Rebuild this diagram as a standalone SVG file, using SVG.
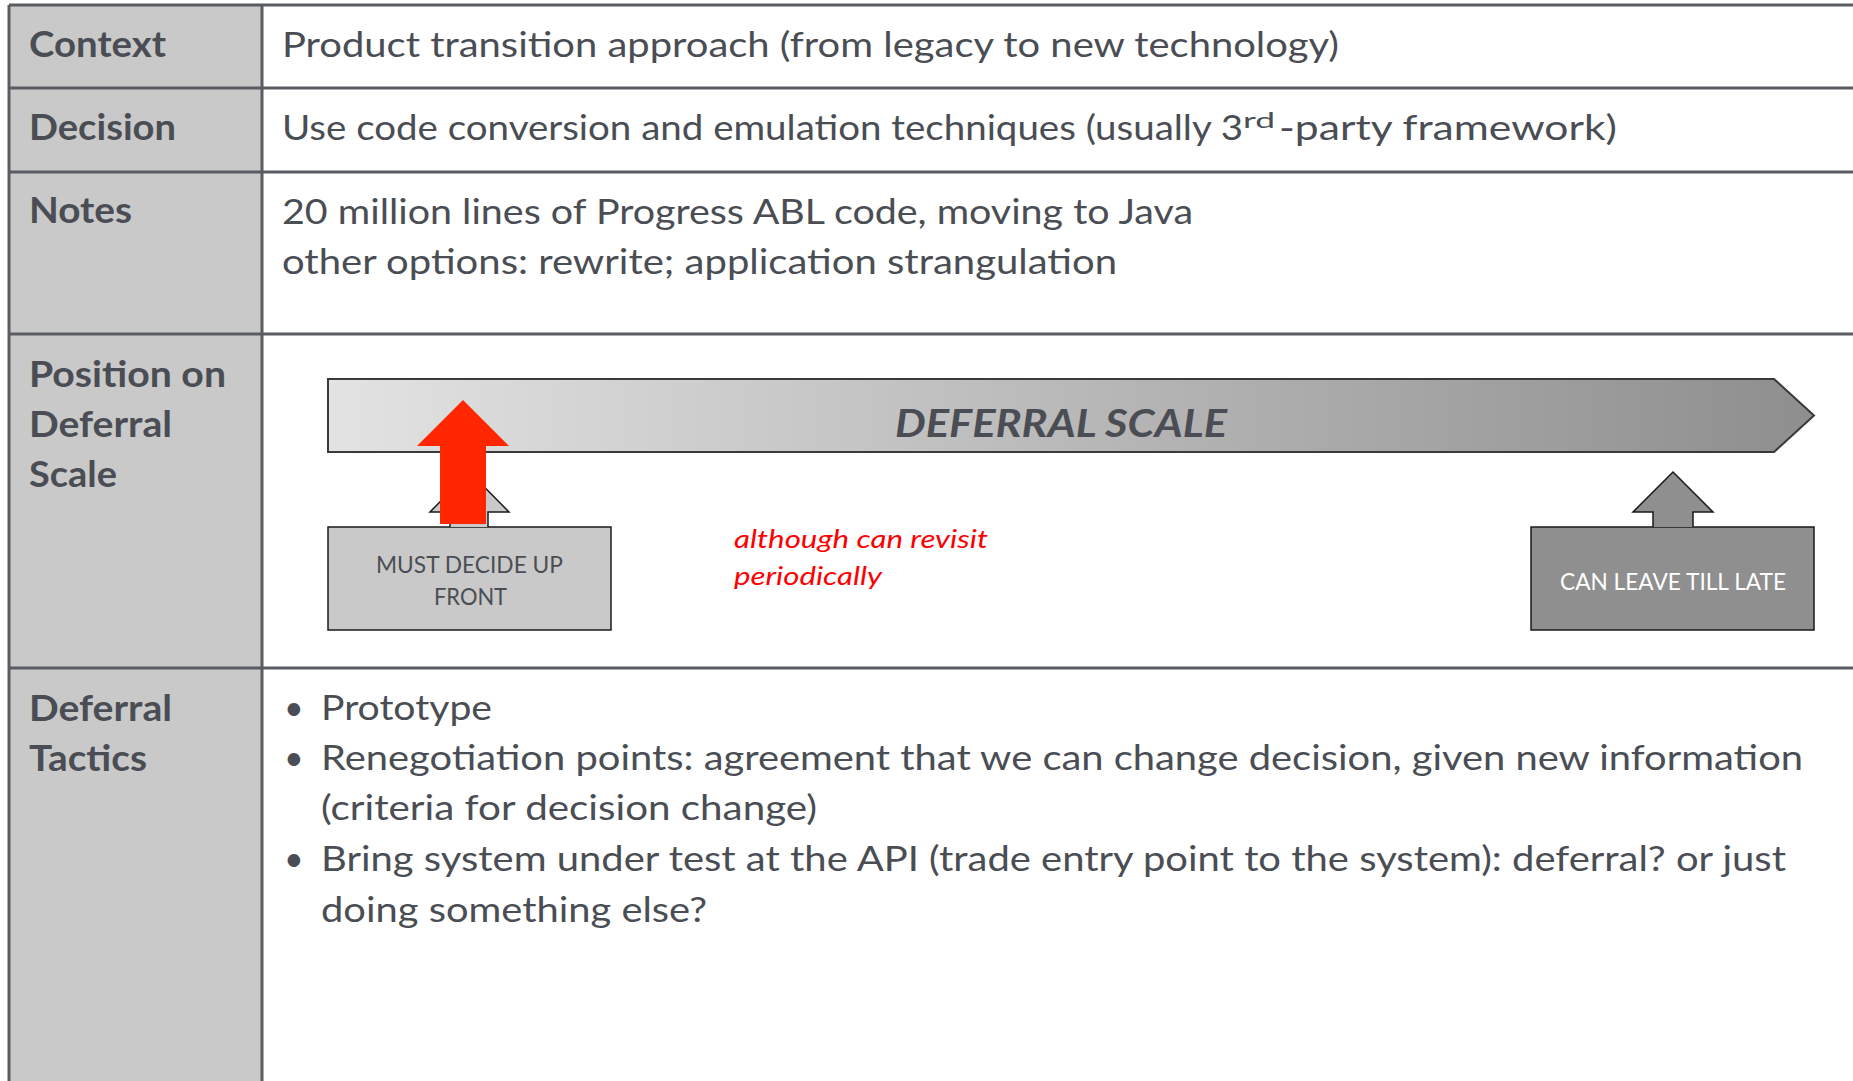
<svg xmlns="http://www.w3.org/2000/svg" width="1853" height="1081" viewBox="0 0 1853 1081">
<style>
.lbl{font-family:Lato,"Open Sans","Liberation Sans",sans-serif;font-weight:bold;font-size:36px;fill:#4a4e54}
.txt{font-family:Lato,"Open Sans","Liberation Sans",sans-serif;font-size:34px;fill:#4a4e54}
.sup{font-family:Lato,"Open Sans","Liberation Sans",sans-serif;font-size:21px;fill:#4a4e54}
.grid{stroke:#595d62;stroke-width:3;fill:none}
.box{font-family:Lato,"Open Sans","Liberation Sans",sans-serif;font-size:23px}
.red{font-family:Lato,"Open Sans","Liberation Sans",sans-serif;font-style:italic;font-size:26px;fill:#ff0000}
.scale{font-family:Lato,"Open Sans","Liberation Sans",sans-serif;font-style:italic;font-weight:bold;font-size:39px;fill:#4a4e54}
</style>
<defs>
<linearGradient id="barGrad" x1="328" y1="0" x2="1814" y2="0" gradientUnits="userSpaceOnUse">
<stop offset="0" stop-color="#e3e3e3"/>
<stop offset="1" stop-color="#8e8e8e"/>
</linearGradient>
</defs>
<rect x="0" y="0" width="1853" height="1081" fill="#ffffff"/>
<g id="table">
<rect x="9" y="5" width="253" height="1080" fill="#c9c9c9"/>
<path class="grid" d="M9 5 H1853 M9 88 H1853 M9 172 H1853 M9 334 H1853 M9 668 H1853 M9 5 V1081 M262 5 V1081"/>
</g>
<g id="row-context">
<text class="lbl" x="29" y="57" textLength="137" lengthAdjust="spacingAndGlyphs">Context</text>
<text class="txt" x="282" y="57" textLength="1057" lengthAdjust="spacingAndGlyphs">Product transition approach (from legacy to new technology)</text>
</g>
<g id="row-decision">
<text class="lbl" x="29" y="140" textLength="147" lengthAdjust="spacingAndGlyphs">Decision</text>
<text class="txt" x="282" y="140" textLength="961" lengthAdjust="spacingAndGlyphs">Use code conversion and emulation techniques (usually 3</text>
<text class="sup" x="1243" y="128" textLength="32" lengthAdjust="spacingAndGlyphs">rd</text>
<text class="txt" x="1279" y="140" textLength="338" lengthAdjust="spacingAndGlyphs">-party framework)</text>
</g>
<g id="row-notes">
<text class="lbl" x="29" y="223" textLength="103" lengthAdjust="spacingAndGlyphs">Notes</text>
<text class="txt" x="282" y="224" textLength="911" lengthAdjust="spacingAndGlyphs">20 million lines of Progress ABL code, moving to Java</text>
<text class="txt" x="282" y="274" textLength="835" lengthAdjust="spacingAndGlyphs">other options: rewrite; application strangulation</text>
</g>
<g id="row-position">
<text class="lbl" x="29" y="387" textLength="197" lengthAdjust="spacingAndGlyphs">Position on</text>
<text class="lbl" x="29" y="437" textLength="143" lengthAdjust="spacingAndGlyphs">Deferral</text>
<text class="lbl" x="29" y="487" textLength="88" lengthAdjust="spacingAndGlyphs">Scale</text>
</g>
<g id="deferral-scale">
<path d="M328 379 H1774 L1814 415.5 L1774 452 H328 Z" fill="url(#barGrad)" stroke="#3a3a3a" stroke-width="2"/>
<text class="scale" x="895" y="437" textLength="332" lengthAdjust="spacingAndGlyphs">DEFERRAL SCALE</text>
</g>
<g id="must-decide">
<rect x="328" y="527" width="283" height="103" fill="#c9c9c9" stroke="#1a1a1a" stroke-width="1.5"/>
<text class="box" x="376" y="573" fill="#4a4e54" textLength="187" lengthAdjust="spacingAndGlyphs">MUST DECIDE UP</text>
<text class="box" x="434" y="605" fill="#4a4e54" textLength="73" lengthAdjust="spacingAndGlyphs">FRONT</text>
</g>
<g id="can-leave">
<rect x="1531" y="527" width="283" height="103" fill="#8f8f8f" stroke="#1a1a1a" stroke-width="1.5"/>
<text class="box" x="1560" y="590" fill="#ffffff" textLength="226" lengthAdjust="spacingAndGlyphs">CAN LEAVE TILL LATE</text>
</g>
<g id="revisit-note">
<text class="red" x="734" y="548" textLength="254" lengthAdjust="spacingAndGlyphs">although can revisit</text>
<text class="red" x="734" y="585" textLength="148" lengthAdjust="spacingAndGlyphs">periodically</text>
</g>
<g id="connectors">
<path d="M450 527 V512 H430 L469.5 472 L509 512 H488 V527" fill="#c9c9c9" stroke="#1a1a1a" stroke-width="1.5"/>
<path d="M1653 527 V512 H1633 L1673 472 L1713 512 H1693 V527" fill="#8f8f8f" stroke="#1a1a1a" stroke-width="1.5"/>
<path d="M440 524 V446 H417 L463 400 L509 446 H486 V524 Z" fill="#ff2600"/>
</g>
<g id="row-tactics">
<text class="lbl" x="29" y="721" textLength="143" lengthAdjust="spacingAndGlyphs">Deferral</text>
<text class="lbl" x="29" y="771" textLength="118" lengthAdjust="spacingAndGlyphs">Tactics</text>
<text class="txt" x="284" y="720">•</text>
<text class="txt" x="321" y="720" textLength="171" lengthAdjust="spacingAndGlyphs">Prototype</text>
<text class="txt" x="284" y="770">•</text>
<text class="txt" x="321" y="770" textLength="1482" lengthAdjust="spacingAndGlyphs">Renegotiation points: agreement that we can change decision, given new information</text>
<text class="txt" x="321" y="820" textLength="496" lengthAdjust="spacingAndGlyphs">(criteria for decision change)</text>
<text class="txt" x="284" y="871">•</text>
<text class="txt" x="321" y="871" textLength="1465" lengthAdjust="spacingAndGlyphs">Bring system under test at the API (trade entry point to the system): deferral? or just</text>
<text class="txt" x="321" y="922" textLength="386" lengthAdjust="spacingAndGlyphs">doing something else?</text>
</g>
</svg>
